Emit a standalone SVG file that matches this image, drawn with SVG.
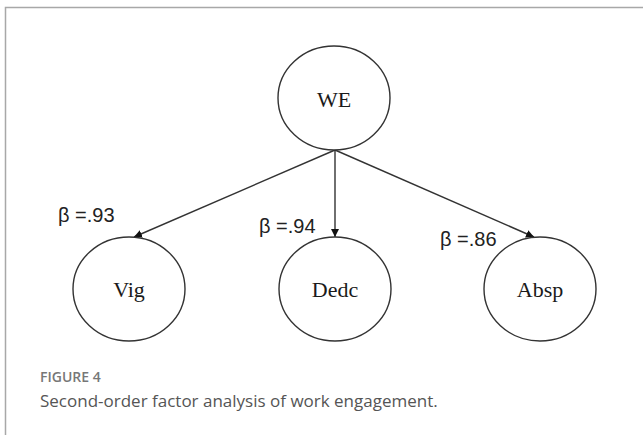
<svg xmlns="http://www.w3.org/2000/svg" width="643" height="435" viewBox="0 0 643 435">
<style>
.node{fill:#fff;stroke:#333;stroke-width:1.4}
.lbl{font-family:"Liberation Serif",serif;font-size:22px;fill:#1a1a1a;text-anchor:middle}
.beta{font-family:"Liberation Sans",sans-serif;font-size:20px;fill:#222}
.edge{stroke:#333;stroke-width:1.4;fill:none;marker-end:url(#ah)}
.cap1{font-family:"Open Sans",sans-serif;font-size:14px;font-weight:600;fill:#777}
.cap2{font-family:"Open Sans",sans-serif;font-size:17px;fill:#555}
</style>
<defs>
<marker id="ah" viewBox="0 0 10 10" refX="10" refY="5" markerWidth="8" markerHeight="8" markerUnits="userSpaceOnUse" orient="auto">
<path d="M0,0 L10,5 L0,10 z" fill="#111"/>
</marker>
</defs>
<rect width="643" height="435" fill="#fff"/>
<path d="M5.5,435 V7.5 H643" fill="none" stroke="#a8a8a8" stroke-width="1.5"/>
<g id="connectors">
<line class="edge" x1="335" y1="150" x2="134" y2="237"/>
<line class="edge" x1="335" y1="150" x2="335" y2="237"/>
<line class="edge" x1="335" y1="150" x2="534" y2="237"/>
</g>
<g id="WE"><ellipse class="node" cx="334" cy="98" rx="56" ry="52"/><text class="lbl" x="334" y="107">WE</text></g>
<g id="Vig"><ellipse class="node" cx="129" cy="289" rx="56" ry="52"/><text class="lbl" x="129" y="297">Vig</text></g>
<g id="Dedc"><ellipse class="node" cx="335" cy="289" rx="56" ry="52"/><text class="lbl" x="335" y="297">Dedc</text></g>
<g id="Absp"><ellipse class="node" cx="540" cy="289" rx="56" ry="52"/><text class="lbl" x="540" y="297">Absp</text></g>
<g id="labels">
<text class="beta" x="58" y="222">β =.93</text>
<text class="beta" x="259" y="233">β =.94</text>
<text class="beta" x="440" y="246">β =.86</text>
</g>
<g id="caption">
<text class="cap1" x="40" y="382">FIGURE 4</text>
<text class="cap2" x="40" y="407">Second-order factor analysis of work engagement.</text>
</g>
</svg>
